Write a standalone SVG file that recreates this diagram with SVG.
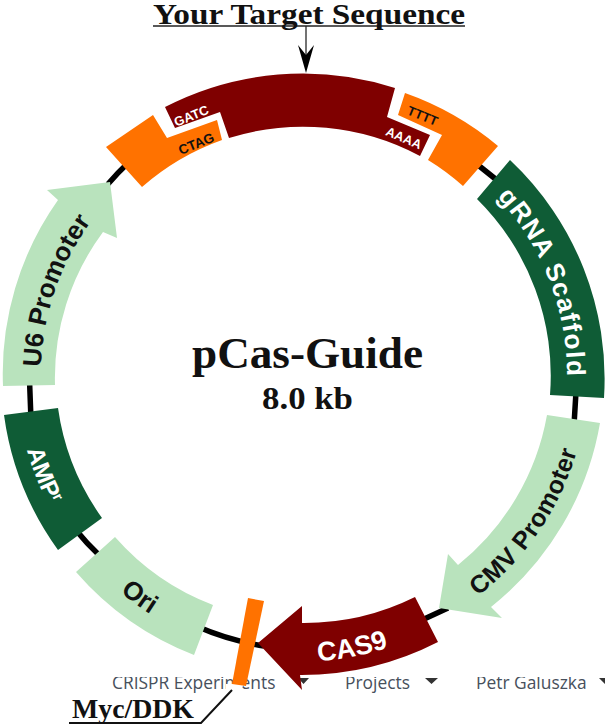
<svg xmlns="http://www.w3.org/2000/svg" width="605" height="728" viewBox="0 0 605 728">
<style>
.maroon{fill:#7f0000}.orange{fill:#ff7200}.dark{fill:#0f5c36}.light{fill:#b9e3bd}
.lab{font-family:"Liberation Sans",Arial,sans-serif;font-weight:700}
.blk{fill:#111}.wht{fill:#fff}
.ser{font-family:"Liberation Serif","Times New Roman",serif;font-weight:700;fill:#111}
.web{font-family:"Open Sans",sans-serif;font-size:17.400px;fill:#47505c}
.ring{fill:none;stroke:#000;stroke-width:5.5}
</style>
<defs>
<path id="pU6" d="M41,367 A262 262 0 0 1 120,188"/>
<path id="pCMV" d="M478,596 A283 283 0 0 0 585,414"/>
<path id="pGRNA" d="M497,197 A263 263 0 0 1 566,400"/>
<path id="pAMP" d="M27,450 A286 286 0 0 0 100,575"/>
<path id="pORI" d="M120,592 A285 285 0 0 0 210,643"/>
<path id="pCAS" d="M318,661 A288 288 0 0 0 420,635"/>
</defs>
<rect width="605" height="728" fill="#fff"/>
<g id="page-menu">
<text class="web" x="112" y="689">CRISPR Experiments</text>
<text class="web" x="345" y="689">Projects</text>
<text class="web" x="476" y="689">Petr Galuszka</text>
<path d="M298,678h11l-5.500,6zM425,678h13l-6.500,6zM599,678h6v6z" fill="#333"/>
<rect x="0" y="640" width="605" height="37" fill="#fff"/>
<path d="M226,684H244L238,696H226Z" fill="#fff"/>
</g>
<g id="connectors">
<path class="ring" d="M108,184 A274 274 0 0 1 128,163M29.500,380 L31,420M75,529 A274 274 0 0 0 100,556M196,626 A274 274 0 0 0 264,646M422,620 L448,608M576,392 L574,425M478,165 L498,181"/>
<path d="M306,26V60" stroke="#444" stroke-width="1.500" fill="none"/>
<path d="M298,45 L306,55 L314,45 L306,73Z" fill="#000"/>
<path d="M232,690 L201,723 L69,723" stroke="#111" stroke-width="2" fill="none"/>
<path d="M153,26H465" stroke="#222" stroke-width="1.500" fill="none"/>
</g>
<g id="target">
<path class="maroon" d="M165,107 A300 300 0 0 1 395,88 L387,117 L430,135 L420,156 A248 248 0 0 0 229,138 L220,112 L175,128Z"/>
<text class="lab wht" font-size="13" transform="translate(193,120) rotate(-22)" text-anchor="middle">GATC</text>
<text class="lab wht" font-size="13" transform="translate(402,142) rotate(23)" text-anchor="middle">AAAA</text>
</g>
<g id="orange-left">
<path class="orange" d="M106,147 L153,115 L167,138 L217,120 L222,140 A248 248 0 0 0 142,187Z"/>
<text class="lab blk" font-size="13.500" transform="translate(198,148) rotate(-22)" text-anchor="middle">CTAG</text>
</g>
<g id="orange-right">
<path class="orange" d="M405,93 A300 300 0 0 1 498,146 L463,186 A248 248 0 0 0 428,160 L442,135 L398,115Z"/>
<text class="lab blk" font-size="13" transform="translate(421,120) rotate(22)" text-anchor="middle">TTTT</text>
</g>
<g id="grna">
<path class="dark" d="M510,160 A300 300 0 0 1 604,398 L550,395 A248 248 0 0 0 477,199Z"/>
<text class="lab wht" font-size="26" letter-spacing="1.300"><textPath href="#pGRNA">gRNA Scaffold</textPath></text>
</g>
<g id="cmv">
<path class="light" d="M600,423 A300 300 0 0 1 491,607 L502,618 L439,608 L448,554 L458,565 A248 248 0 0 0 547,415Z"/>
<text class="lab blk" font-size="25" letter-spacing=".4"><textPath href="#pCMV">CMV Promoter</textPath></text>
</g>
<g id="cas9">
<path class="maroon" d="M438,642 A300 300 0 0 1 300,675 L302,690 L258,643 L302,606 L302,623 A250 250 0 0 0 415,597Z"/>
<text class="lab wht" font-size="27"><textPath href="#pCAS">CAS9</textPath></text>
</g>
<g id="myc">
<path class="orange" d="M248,598 L264,601 L246,686 L232,684Z"/>
<text class="ser" x="72" y="718" font-size="27" textLength="122" lengthAdjust="spacingAndGlyphs">Myc/DDK</text>
</g>
<g id="ori">
<path class="light" d="M76,572 L115,537 A248 248 0 0 0 213,605 L194,655 A300 300 0 0 1 76,572Z"/>
<text class="lab blk" font-size="26"><textPath href="#pORI">Ori</textPath></text>
</g>
<g id="amp">
<path class="dark" d="M4,415 L58,408 A248 248 0 0 0 102,518 L58,550 A300 300 0 0 1 4,415Z"/>
<text class="lab wht" font-size="24"><textPath href="#pAMP">AMP<tspan font-size="15" dy="-7">r</tspan></textPath></text>
</g>
<g id="u6">
<path class="light" d="M3,386 A300 300 0 0 1 58,200 L47,190 L110,182 L117,238 L103,232 A245 245 0 0 0 55,385Z"/>
<text class="lab blk" font-size="26"><textPath href="#pU6">U6 Promoter</textPath></text>
</g>
<g id="center">
<text class="ser" x="192" y="368" font-size="44" textLength="231" lengthAdjust="spacingAndGlyphs">pCas-Guide</text>
<text class="ser" x="262" y="409" font-size="31" textLength="91" lengthAdjust="spacingAndGlyphs">8.0 kb</text>
<text class="ser" x="153" y="24" font-size="29" textLength="312" lengthAdjust="spacingAndGlyphs">Your Target Sequence</text>
</g>
</svg>
